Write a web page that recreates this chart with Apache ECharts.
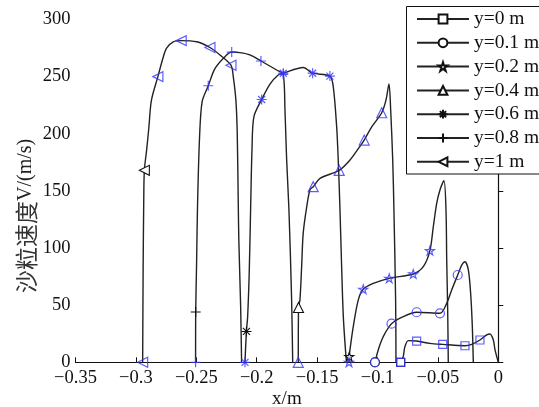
<!DOCTYPE html>
<html><head><meta charset="utf-8">
<script src="https://cdn.jsdelivr.net/npm/echarts@6/dist/echarts.min.js"></script>
<style>html,body{margin:0;padding:0;background:#fff}#c{width:539px;height:407px}</style>
</head><body><div id="c"></div>
<script>
// ---- data ----
const seriesNames = ['y=0 m','y=0.1 m','y=0.2 m','y=0.4 m','y=0.6 m','y=0.8 m','y=1 m'];
const xTickLabels = ['\u22120.35','\u22120.3','\u22120.25','\u22120.2','\u22120.15','\u22120.1','\u22120.05','0'];
const yTickLabels = ['0','50','100','150','200','250','300'];

// curves (x in m, V in m/s)
const curve_y0 = [[-0.0808,0],[-0.0787,5],[-0.0773,13.7],[-0.0745,19],[-0.0676,18.6],[-0.0566,16.6],[-0.0460,15.7],[-0.0276,14.5],[-0.0220,15.7],[-0.0152,19.5],[-0.0096,24],[-0.0069,24.8],[-0.0041,19.5],[-0.0027,10.8],[0,0]];
const curve_y01 = [[-0.1021,0],[-0.0994,10.8],[-0.0965,19.5],[-0.0938,25.4],[-0.0884,33.8],[-0.0787,40],[-0.0676,43.8],[-0.0483,42.9],[-0.0427,51.6],[-0.0386,63.3],[-0.0336,76.4],[-0.0303,85],[-0.0276,88],[-0.0248,80.8],[-0.0229,60.4],[-0.0215,31.2],[-0.0207,0]];
const curve_y02 = [[-0.1236,0],[-0.1234,5],[-0.1228,10.8],[-0.1201,31],[-0.1159,54.6],[-0.1118,63.9],[-0.1035,69],[-0.0903,73.5],[-0.0704,77.3],[-0.0621,83.7],[-0.0566,97.7],[-0.0538,118.7],[-0.0510,139],[-0.0483,150.8],[-0.0450,159],[-0.0433,133],[-0.0427,89.5],[-0.0419,45.8],[-0.0414,0]];
const curve_y04 = [[-0.1656,0],[-0.1654,48],[-0.1642,54.6],[-0.1628,83.7],[-0.1615,113],[-0.1586,136],[-0.1559,151],[-0.1532,153.7],[-0.1476,161],[-0.1317,168],[-0.1228,177],[-0.1159,187],[-0.1110,194.5],[-0.1048,206],[-0.0965,218.4],[-0.0930,229.5],[-0.0905,243.5],[-0.0891,221],[-0.0874,177],[-0.0864,133],[-0.0850,54.6],[-0.0847,0]];
const curve_y06 = [[-0.2097,0],[-0.2085,27],[-0.2075,40],[-0.2062,78],[-0.2050,136],[-0.2039,186],[-0.2023,215],[-0.1959,230],[-0.1890,243.5],[-0.1822,251.5],[-0.1780,253],[-0.1615,258],[-0.1537,253],[-0.1394,250.5],[-0.1366,241],[-0.1338,206],[-0.1325,177],[-0.1311,135],[-0.1297,84],[-0.1283,40],[-0.1261,5],[-0.1255,0]];
const curve_y08 = [[-0.2506,0],[-0.2505,44],[-0.2498,84],[-0.2490,136],[-0.2474,194.5],[-0.2452,228],[-0.2401,242],[-0.2346,257],[-0.2263,267.5],[-0.2207,271.5],[-0.2139,271],[-0.2056,269],[-0.1965,263.7],[-0.1835,255.8],[-0.1780,252],[-0.1766,221],[-0.1752,177],[-0.1733,133],[-0.1711,55],[-0.1702,0]];
const curve_y1 = [[-0.2944,0],[-0.2940,84],[-0.2935,142],[-0.2930,168],[-0.2912,185],[-0.2893,205],[-0.2872,229],[-0.2818,250],[-0.2774,267],[-0.2746,275],[-0.2691,280.5],[-0.2625,281.5],[-0.2497,280.5],[-0.2387,275.5],[-0.2304,269],[-0.2213,260],[-0.2194,250],[-0.2172,229],[-0.2161,200],[-0.2153,142],[-0.2148,107],[-0.2133,49],[-0.2125,0]];

// index of the black marker drawn on each curve
const blackMarkIndex = [0, 0, 1, 1, 1, 1, 3];

// blue sample markers
const marks_y0 = [[-0.0808,0],[-0.0676,18.6],[-0.0460,15.7],[-0.0276,14.5],[-0.0152,19.5]];
const marks_y01 = [[-0.1021,0],[-0.0884,33.8],[-0.0676,43.8],[-0.0483,42.9],[-0.0336,76.4]];
const marks_y02 = [[-0.1236,0],[-0.1118,63.9],[-0.0903,73.5],[-0.0704,77.3],[-0.0566,97.7]];
const marks_y04 = [[-0.1656,0],[-0.1532,153.7],[-0.1317,168],[-0.1110,194.5],[-0.0965,218.4]];
const marks_y06 = [[-0.2097,0],[-0.1959,230],[-0.1780,253],[-0.1537,253],[-0.1394,250.5]];
const marks_y08 = [[-0.2506,0],[-0.2401,242],[-0.2207,271.5],[-0.1965,263.7],[-0.1780,252]];
const marks_y1 = [[-0.2944,0],[-0.2818,250],[-0.2625,281.5],[-0.2387,275.5],[-0.2213,260]];

const curves = [curve_y0, curve_y01, curve_y02, curve_y04, curve_y06, curve_y08, curve_y1];
const marks = [marks_y0, marks_y01, marks_y02, marks_y04, marks_y06, marks_y08, marks_y1];

// ---- styles ----
const SYM_PENTAGRAM = 'path://M5 0L6.123 3.455L9.755 3.455L6.816 5.59L7.939 9.045L5 6.91L2.061 9.045L3.184 5.59L0.245 3.455L3.877 3.455Z';
const SYM_ASTERISK = 'path://M5 0L5 10M0 5L10 5M1.5 1.5L8.5 8.5M1.5 8.5L8.5 1.5';
const SYM_PLUS = 'path://M5 0L5 10M0 5L10 5';
const SYM_TRI_LEFT = 'path://M0 5L10 0L10 10Z';
const symbols = ['rect','circle',SYM_PENTAGRAM,'triangle',SYM_ASTERISK,SYM_PLUS,SYM_TRI_LEFT];
const symSizes = [8,9,9,10,10,10,10];
const SERIF = "'Liberation Serif','Times New Roman',serif";
const BLUE = '#3434ff';

const series = [];
curves.forEach((c, i) => {
  series.push({
    type: 'line', name: seriesNames[i], data: c, smooth: 0.3,
    symbol: symbols[i], symbolKeepAspect: true,
    symbolSize: (v, p) => p.dataIndex === blackMarkIndex[i] ? symSizes[i] : 0,
    showSymbol: true, showAllSymbol: true,
    lineStyle: { color: '#222', width: 1.4 },
    itemStyle: { color: '#fff', borderColor: '#111', borderWidth: 1.1 },
    z: 2, silent: true
  });
});
marks.forEach((m, i) => {
  series.push({
    type: 'scatter', name: 'mark ' + seriesNames[i], data: m,
    symbol: symbols[i], symbolSize: symSizes[i], symbolKeepAspect: true,
    itemStyle: { color: 'rgba(0,0,0,0)', borderColor: BLUE, borderWidth: 1.2 },
    z: 3, silent: true
  });
});

const chart = echarts.init(document.getElementById('c'), null, { renderer: 'canvas' });
chart.setOption({
  animation: false,
  backgroundColor: '#fff',
  grid: { left: 75.5, top: 19.5, width: 422.8, height: 342.8, containLabel: false, outerBoundsMode: 'none' },
  graphic: [{
    type: 'rect', z: 10, silent: true,
    shape: { x: 406.5, y: 6.5, width: 200, height: 167.5 },
    style: { fill: '#fff', stroke: '#111', lineWidth: 1 }
  }],
  legend: {
    data: seriesNames, orient: 'vertical', left: 406, top: 6, z: 20,
    padding: [3, 60, 3, 10], itemGap: 3.8, itemWidth: 52, itemHeight: 11,
    borderWidth: 0,
    textStyle: { fontFamily: SERIF, fontSize: 19.5, lineHeight: 18, color: '#111' },
    selectedMode: false
  },
  xAxis: {
    type: 'value', min: -0.35, max: 0, interval: 0.05,
    name: 'x/m', nameLocation: 'middle', nameGap: 27, nameMoveOverlap: false,
    nameTextStyle: { fontFamily: SERIF, fontSize: 19, color: '#111' },
    axisLine: { show: true, onZero: false, lineStyle: { color: '#111', width: 1.2 } },
    axisTick: { show: true, inside: true, length: 5, lineStyle: { color: '#111' } },
    axisLabel: { margin: 6, fontFamily: SERIF, fontSize: 18.5, color: '#111',
      formatter: (v, i) => xTickLabels[i] },
    splitLine: { show: false }
  },
  yAxis: {
    type: 'value', min: 0, max: 300, interval: 50,
    name: '{c|沙粒速度}{l|V/(m/s)}', nameLocation: 'middle', nameGap: 38, nameMoveOverlap: false,
    nameTextStyle: { padding: [0, 50, 0, 0],
      rich: { c: { fontFamily: "'Noto Sans CJK SC'", fontSize: 23, color: '#333' },
              l: { fontFamily: SERIF, fontSize: 20, color: '#222' } } },
    axisLine: { show: true, lineStyle: { color: '#111', width: 1.2 } },
    axisTick: { show: true, inside: true, length: 5, lineStyle: { color: '#111' } },
    axisLabel: { margin: 5, fontFamily: SERIF, fontSize: 18.5, color: '#111',
      formatter: (v, i) => yTickLabels[i] },
    splitLine: { show: false }
  },
  series: series
});
</script></body></html>
